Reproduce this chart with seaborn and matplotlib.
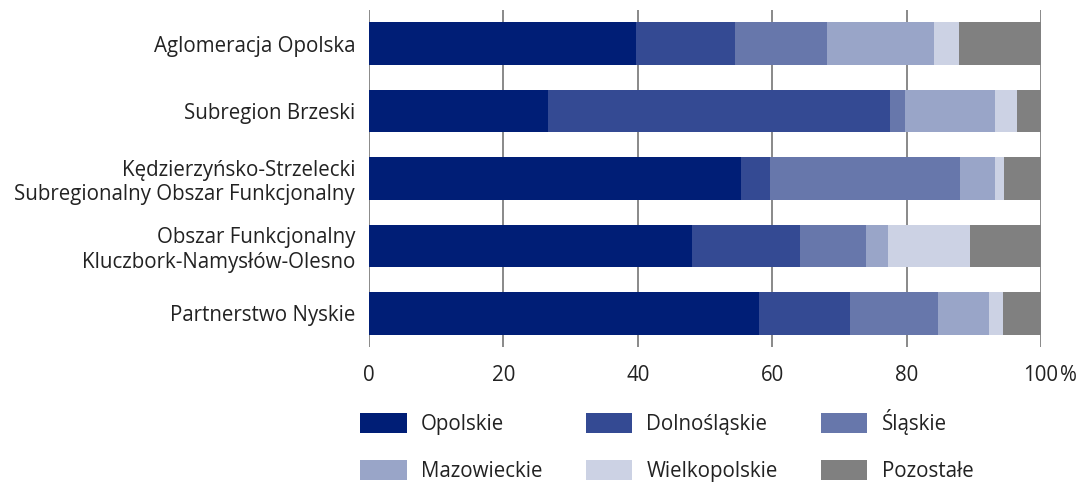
import numpy as np
import pandas as pd
import matplotlib.pyplot as plt
import seaborn as sns

# Data (percent shares by region of origin)
regions = [
    "Aglomeracja Opolska",
    "Subregion Brzeski",
    "Kędzierzyńsko-Strzelecki\nSubregionalny Obszar Funkcjonalny",
    "Obszar Funkcjonalny\nKluczbork-Namysłów-Olesno",
    "Partnerstwo Nyskie",
]
categories = ["Opolskie", "Dolnośląskie", "Śląskie", "Mazowieckie", "Wielkopolskie", "Pozostałe"]
opolskie = [39.7, 26.7, 55.3, 48.0, 58.0]
dolnoslaskie = [14.8, 50.9, 4.3, 16.2, 13.6]
slaskie = [13.7, 2.2, 28.3, 9.7, 13.0]
mazowieckie = [15.9, 13.4, 5.3, 3.4, 7.6]
wielkopolskie = [3.7, 3.3, 1.3, 12.1, 2.1]
pozostale = [12.2, 3.5, 5.5, 10.6, 5.7]
colors = ["#001e76", "#344a93", "#6777ab", "#99a5c8", "#ccd2e4", "#808080"]

values = [opolskie, dolnoslaskie, slaskie, mazowieckie, wielkopolskie, pozostale]
df = pd.DataFrame(dict(zip(categories, values)), index=regions)
cum = df.cumsum(axis=1)

sns.set_style("white")
plt.rcParams["font.family"] = ["Open Sans", "DejaVu Sans"]
fs = 14.8

fig = plt.figure(figsize=(10.81, 4.84), dpi=100)
ax = fig.add_axes([369 / 1081, 1 - 347 / 484, 672 / 1081, 337 / 484])

for cat, col in reversed(list(zip(categories, colors))):
    d = pd.DataFrame({"region": regions, "value": cum[cat].values})
    sns.barplot(data=d, x="value", y="region", color=col, width=0.63,
                saturation=1, ax=ax, label=cat, linewidth=0, zorder=3)

ax.set_xlim(0, 100)
ax.set_ylim(4.5, -0.5)
ax.set_xticks([0, 20, 40, 60, 80, 100])
ax.set_xticklabels(["0", "20", "40", "60", "80", "100"])
ax.grid(axis="x", color="#808080", linewidth=1.3, zorder=0)
ax.grid(axis="y", visible=False)
for s in ax.spines.values():
    s.set_visible(False)
ax.set_xlabel("")
ax.set_ylabel("")
ax.tick_params(axis="both", length=0, labelsize=fs, colors="#222222")
ax.tick_params(axis="x", pad=13)
ax.tick_params(axis="y", pad=10)
for t in ax.get_yticklabels():
    t.set_horizontalalignment("right")
ax.annotate("%", xy=(100, 0), xycoords=("data", "axes fraction"),
            xytext=(14, -13), textcoords="offset points", ha="left", va="top",
            fontsize=fs, color="#222222")

# legend filled row by row (3 columns, 2 rows)
handles, labels = ax.get_legend_handles_labels()
by_name = dict(zip(labels, handles))
order = [0, 3, 1, 4, 2, 5]
ax.legend([by_name[categories[i]] for i in order], [categories[i] for i in order],
          loc="upper left", bbox_to_anchor=(-0.025, -0.16), borderaxespad=0,
          ncol=3, frameon=False, fontsize=fs,
          handlelength=2.25, handleheight=1.1, handletextpad=0.7,
          columnspacing=2.1, labelspacing=1.2, labelcolor="#222222")

fig.savefig("out.png", dpi=100)
